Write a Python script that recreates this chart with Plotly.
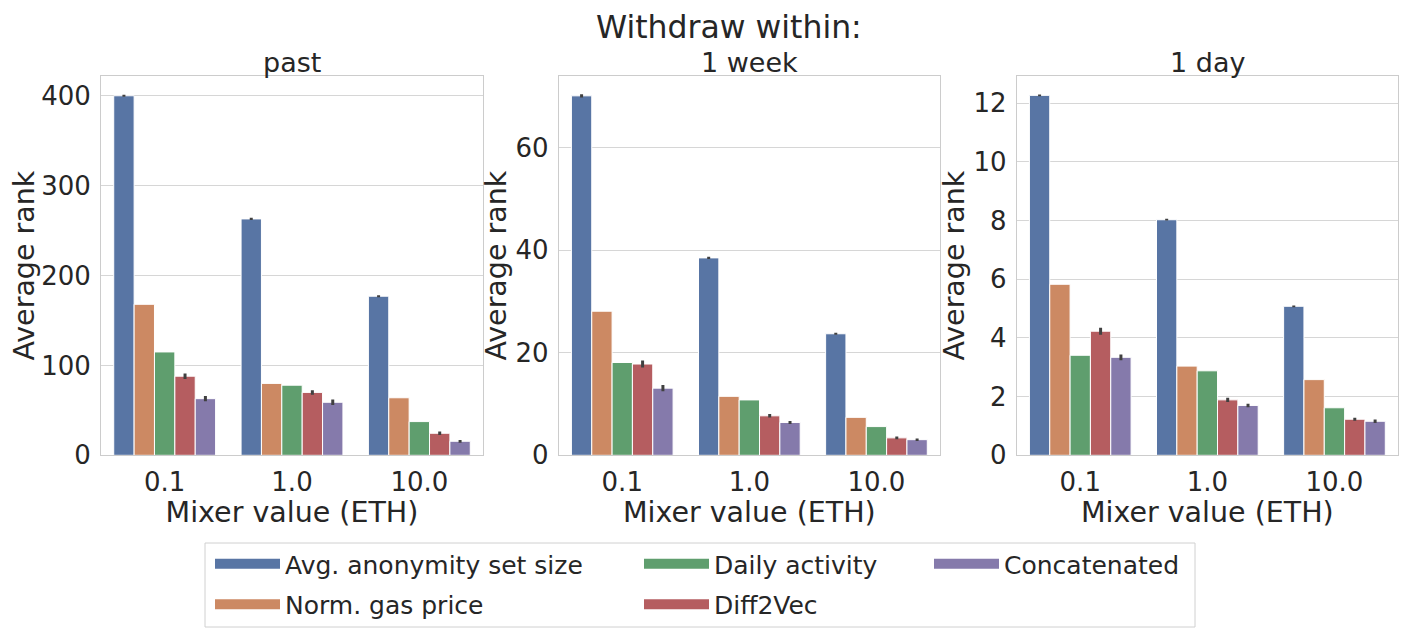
import plotly.graph_objects as go
from plotly.subplots import make_subplots

mixer_values = ["0.1", "1.0", "10.0"]
windows = ["past", "1 week", "1 day"]
features = ["Avg. anonymity set size", "Norm. gas price", "Daily activity",
            "Diff2Vec", "Concatenated"]
colors = ["#5875A4", "#CC8963", "#5F9E6E", "#B55D60", "#857AAB"]

# average rank per feature (rows) and mixer value (columns)
past_rank = [[400, 263, 177], [168, 80, 64], [115, 78, 37.5],
             [88, 70, 24.5], [63, 59, 15.6]]
past_err = [[1.2, 1.2, 1.2], [0, 0, 0], [0, 0, 0],
            [3, 2.5, 2], [3, 3, 1.5]]
week_rank = [[70.1, 38.5, 23.7], [28.1, 11.5, 7.4], [18.1, 10.8, 5.6],
             [17.8, 7.7, 3.4], [13.1, 6.4, 3.05]]
week_err = [[0.3, 0.2, 0.2], [0, 0, 0], [0, 0, 0],
            [0.7, 0.35, 0.25], [0.6, 0.3, 0.25]]
day_rank = [[12.27, 8.03, 5.08], [5.83, 3.04, 2.58], [3.41, 2.88, 1.62],
            [4.23, 1.89, 1.23], [3.34, 1.70, 1.16]]
day_err = [[0.03, 0.03, 0.03], [0, 0, 0], [0, 0, 0],
           [0.12, 0.07, 0.05], [0.1, 0.06, 0.06]]

ranks = [past_rank, week_rank, day_rank]
errs = [past_err, week_err, day_err]
y_max = [422, 73.97, 12.93]
y_step = [100, 20, 2]

# the page body has an 8px margin, so the figure is drawn 8px in
OFF = 8
W, H = 1409 - OFF, 628 - OFF
FONT = "DejaVu Sans"
TXT = "#262626"


def px(x):
    return (x - OFF) / W


def py(y):
    return 1 - (y - OFF) / H


# legend layout like matplotlib ncol=3 (column-wise fill)
legend_of = ["legend", "legend", "legend2", "legend2", "legend3"]

fig = make_subplots(rows=1, cols=3)

for p in range(3):
    for i, name in enumerate(features):
        fig.add_trace(go.Bar(
            x=mixer_values,
            y=ranks[p][i],
            name=name,
            marker=dict(color=colors[i], line=dict(color="white", width=1)),
            error_y=dict(type="data", array=errs[p][i], color="#404040",
                         thickness=3, width=0),
            showlegend=False,
            offsetgroup=str(i),
        ), row=1, col=p + 1)

# legend entries drawn as wide swatches (no data points)
for i, name in enumerate(features):
    fig.add_trace(go.Scatter(
        x=[None], y=[None], mode="lines", name=name,
        line=dict(color=colors[i], width=10),
        legend=legend_of[i], legendgroup=name, hoverinfo="skip",
    ), row=1, col=1)

x_dom = [[px(101), px(483)], [px(558.7), px(940)], [px(1016.7), px(1398)]]
y_dom = [py(455.3), py(76)]

for p in range(3):
    fig.update_xaxes(
        domain=x_dom[p], type="category",
        showline=True, mirror=True, linecolor="#cccccc", linewidth=1,
        showgrid=False, ticks="outside", ticklen=3, tickcolor="rgba(0,0,0,0)",
        tickfont=dict(size=26, color=TXT, family=FONT),
        title=dict(text="Mixer value (ETH)", standoff=0,
                   font=dict(size=28.5, color=TXT, family=FONT)),
        automargin=False,
        row=1, col=p + 1)
    fig.update_yaxes(
        domain=y_dom, range=[0, y_max[p]], dtick=y_step[p],
        showline=True, mirror=True, linecolor="#cccccc", linewidth=1,
        showgrid=True, gridcolor="#d6d6d6", gridwidth=1.2, zeroline=False,
        ticks="outside", ticklen=4, tickcolor="rgba(0,0,0,0)",
        tickfont=dict(size=26, color=TXT, family=FONT),
        title=dict(text="Average rank", standoff=0,
                   font=dict(size=28.5, color=TXT, family=FONT)),
        automargin=False,
        row=1, col=p + 1)

    fig.add_annotation(
        text=windows[p], xref="paper", yref="paper",
        x=(x_dom[p][0] + x_dom[p][1]) / 2, y=py(62),
        xanchor="center", yanchor="middle", showarrow=False, borderpad=0,
        font=dict(size=27, color=TXT, family=FONT))

fig.add_annotation(
    text="Withdraw within:", xref="paper", yref="paper",
    x=px(729), y=py(8), xanchor="center", yanchor="top",
    showarrow=False, borderpad=0,
    font=dict(size=31.5, color=TXT, family=FONT))

# legend frame
fig.add_shape(type="rect", xref="paper", yref="paper",
              x0=px(205), x1=px(1195), y0=py(627), y1=py(543),
              line=dict(color="#d0d0d0", width=1), fillcolor="white",
              layer="below")

leg_common = dict(orientation="v", yanchor="top", xanchor="left",
                  bgcolor="rgba(0,0,0,0)", borderwidth=0,
                  traceorder="grouped", tracegroupgap=5, itemwidth=65,
                  font=dict(size=25, color=TXT, family=FONT))
fig.update_layout(
    legend=dict(x=px(210), y=py(541), **leg_common),
    legend2=dict(x=px(639), y=py(541), **leg_common),
    legend3=dict(x=px(929), y=py(541), **leg_common),
)

fig.update_layout(
    width=W, height=H,
    margin=dict(l=0, r=0, t=0, b=0),
    paper_bgcolor="white", plot_bgcolor="white",
    barmode="group", bargap=0.2, bargroupgap=0,
    font=dict(family=FONT, color=TXT),
)

fig.write_html("out.html")
